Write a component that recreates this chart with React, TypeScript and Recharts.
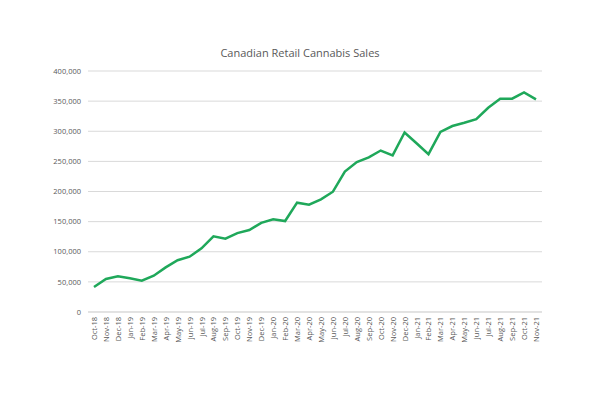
import { LineChart, Line, XAxis, YAxis, CartesianGrid } from "recharts";

const months = [
  "Oct-18", "Nov-18", "Dec-18",
  "Jan-19", "Feb-19", "Mar-19", "Apr-19", "May-19", "Jun-19",
  "Jul-19", "Aug-19", "Sep-19", "Oct-19", "Nov-19", "Dec-19",
  "Jan-20", "Feb-20", "Mar-20", "Apr-20", "May-20", "Jun-20",
  "Jul-20", "Aug-20", "Sep-20", "Oct-20", "Nov-20", "Dec-20",
  "Jan-21", "Feb-21", "Mar-21", "Apr-21", "May-21", "Jun-21",
  "Jul-21", "Aug-21", "Sep-21", "Oct-21", "Nov-21",
];

const sales = [
  41500, 54800, 59200,
  55900, 52000, 60300, 74000, 86000, 91800,
  105700, 125600, 121700, 131000, 136000, 148000,
  154000, 151000, 181500, 178000, 187000, 199700,
  233000, 249000, 256700, 268000, 260000, 298000,
  280000, 262000, 299000, 308700, 314000, 320000,
  339000, 354000, 354000, 364600, 353000,
];

const yTicks = [0, 50000, 100000, 150000, 200000, 250000, 300000, 350000, 400000];

const data = months.map((month, i) => ({ month, sales: sales[i] }));

const FONT = "'Open Sans', 'Noto Sans', sans-serif";

function MonthTick({ x, y, payload }: any) {
  return (
    <text
      x={x}
      y={y}
      transform={`rotate(-90, ${x}, ${y})`}
      textAnchor="end"
      dominantBaseline="central"
      fontSize={7.5}
      fill="#595959"
      fontFamily={FONT}
    >
      {payload.value}
    </text>
  );
}

export default function App() {
  return (
    <div
      style={{
        position: "fixed",
        top: 0,
        left: 0,
        width: 600,
        height: 393,
        background: "#fff",
      }}
    >
      <div
        style={{
          position: "absolute",
          top: 45,
          left: 0,
          width: 600,
          textAlign: "center",
          fontFamily: FONT,
          fontSize: 11,
          color: "#595959",
          lineHeight: "16px",
        }}
      >
        Canadian Retail Cannabis Sales
      </div>
      <LineChart
        width={600}
        height={393}
        data={data}
        margin={{ top: 71, right: 58, bottom: 0, left: 0 }}
      >
        <CartesianGrid vertical={false} stroke="#d9d9d9" />
        <XAxis
          dataKey="month"
          interval={0}
          tick={<MonthTick />}
          tickSize={0}
          tickMargin={5}
          axisLine={{ stroke: "#d9d9d9" }}
          height={81}
          padding={{ left: 6, right: 6 }}
        />
        <YAxis
          width={88}
          domain={[0, 400000]}
          ticks={yTicks}
          tickFormatter={(v: number) => v.toLocaleString("en-US")}
          tickLine={false}
          axisLine={false}
          tickSize={0}
          tickMargin={7}
          tick={{ fontSize: 7.5, fill: "#595959", fontFamily: FONT }}
        />
        <Line
          type="linear"
          dataKey="sales"
          stroke="#1fa85a"
          strokeWidth={2.5}
          dot={false}
          isAnimationActive={false}
        />
      </LineChart>
    </div>
  );
}
